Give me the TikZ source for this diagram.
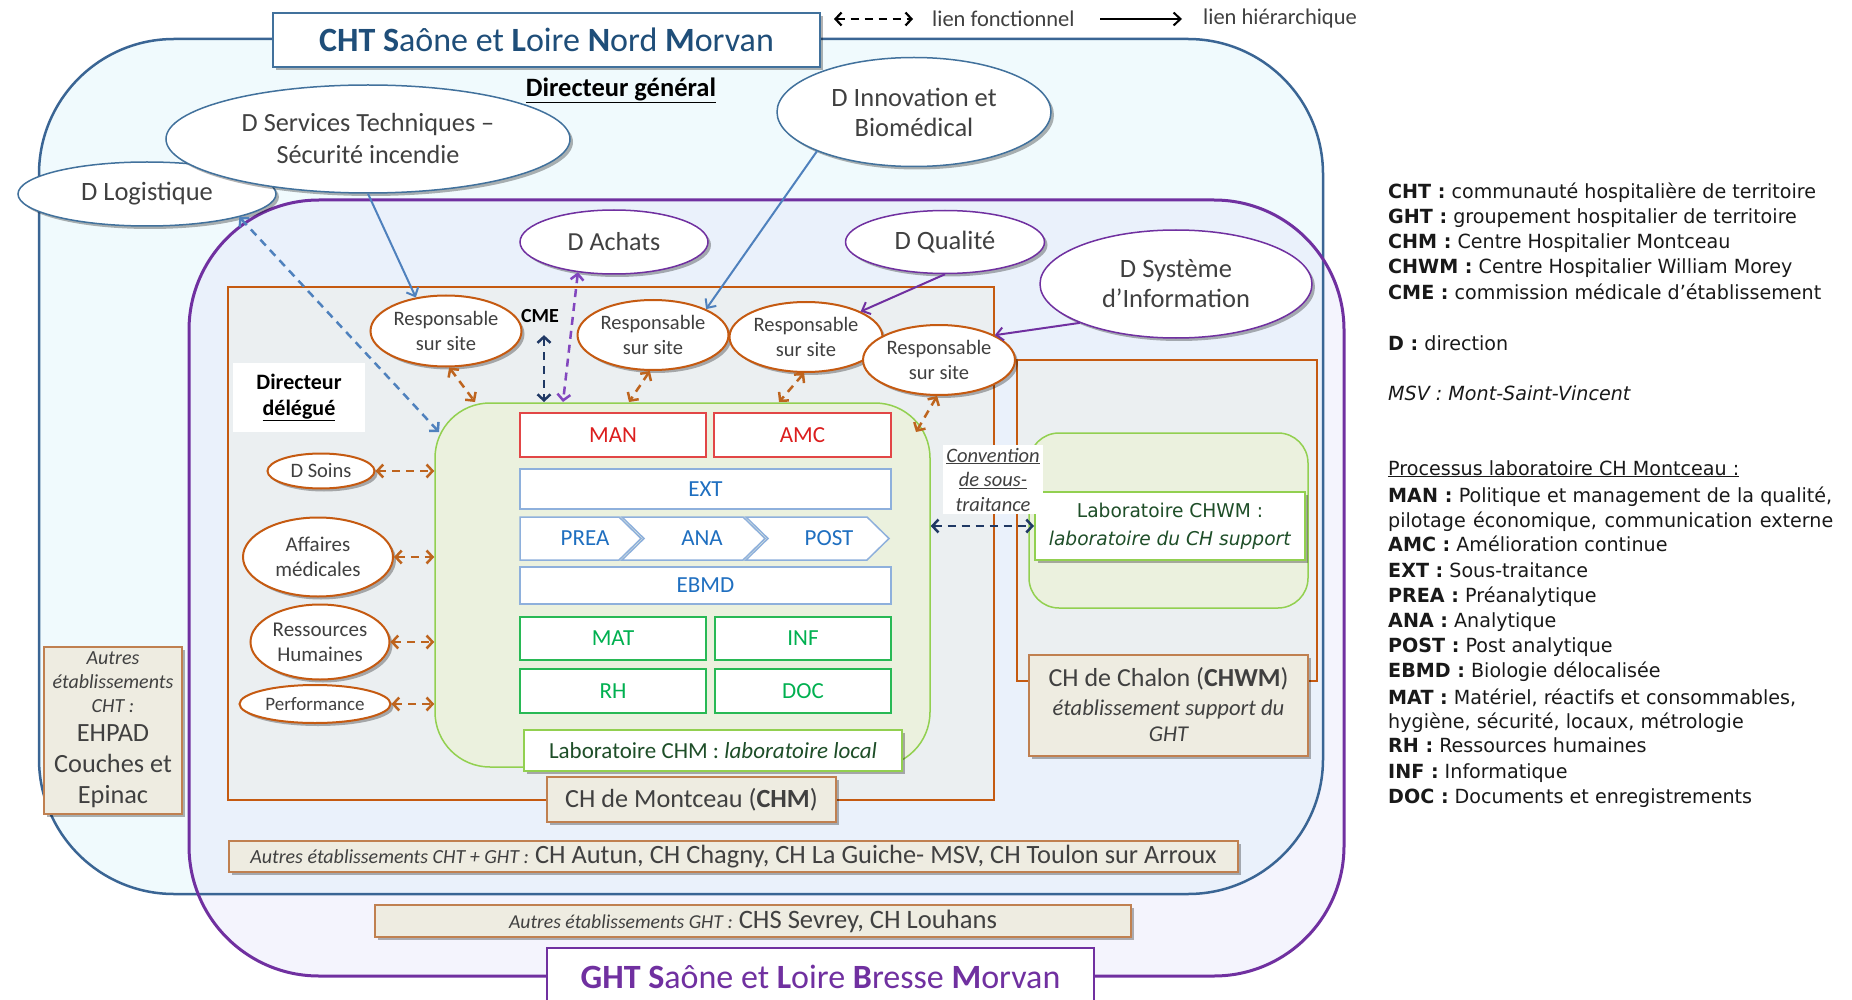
\documentclass[tikz,border=0pt]{standalone}
\usepackage{fontspec}
\setmainfont{Carlito}
\newfontfamily\lgfont[FakeStretch=0.98]{DejaVu Sans}
\usetikzlibrary{shapes.geometric,arrows.meta,shadows}
\newcommand{\myfs}[2]{\fontsize{#1}{#2}\selectfont}
\definecolor{chtblue}{RGB}{58,101,148}
\definecolor{titleblue}{RGB}{31,78,121}
\definecolor{ghtpurple}{RGB}{112,48,160}
\definecolor{achpurple}{RGB}{130,70,190}
\definecolor{chtfill}{RGB}{240,250,253}
\definecolor{ghtfill}{RGB}{225,225,250}
\definecolor{ellblue}{RGB}{65,113,156}
\definecolor{brownline}{RGB}{197,90,17}
\definecolor{browna}{RGB}{190,100,30}
\definecolor{boxgray}{RGB}{235,239,241}
\definecolor{labgreenfill}{RGB}{235,241,222}
\definecolor{labgreenline}{RGB}{146,208,80}
\definecolor{tanfill}{RGB}{238,236,225}
\definecolor{tanline}{RGB}{192,128,80}
\definecolor{manred}{RGB}{226,70,70}
\definecolor{mantext}{RGB}{220,30,30}
\definecolor{extline}{RGB}{142,176,220}
\definecolor{exttext}{RGB}{31,111,192}
\definecolor{matline}{RGB}{40,185,85}
\definecolor{mattext}{RGB}{0,176,80}
\definecolor{darkgreen}{RGB}{30,78,40}
\definecolor{navy}{RGB}{31,56,100}
\definecolor{arrblue}{RGB}{79,129,189}
\definecolor{txtgray}{RGB}{64,64,64}
\tikzset{
 shad/.style={drop shadow={shadow xshift=3pt,shadow yshift=-3pt,opacity=0.3,fill=black}},
 ellb/.style={ellipse,draw=ellblue,line width=1.5pt,fill=white,inner sep=0pt,shad,align=center,text=txtgray},
 ellp/.style={ellb,draw=ghtpurple},
 ellr/.style={ellb,draw=brownline,line width=2pt},
 redbox/.style={draw=manred,line width=1.5pt,fill=white,inner sep=0pt,text=mantext,font=\myfs{23}{26}},
 bluebox/.style={draw=extline,line width=1.5pt,fill=white,inner sep=0pt,text=exttext,font=\myfs{23}{26}},
 greenbox/.style={draw=matline,line width=1.5pt,fill=white,inner sep=0pt,text=mattext,font=\myfs{23}{26}},
 tanbox/.style={draw=tanline,line width=2pt,fill=tanfill,shad,align=center,inner sep=0pt},
 fonc/.style={dash pattern=on 8pt off 6pt,line width=2.5pt,{Straight Barb[length=6pt,width=13pt]}-{Straight Barb[length=6pt,width=13pt]}},
 hier/.style={line width=2pt,-{Straight Barb[length=7pt,width=13pt]}},
 lg/.style={anchor=base west,inner sep=0pt,font=\lgfont\myfs{19.5}{25},text=black!90},
}
\begin{document}
\begin{tikzpicture}[x=1pt,y=-1pt]
\useasboundingbox (0,0) rectangle (1852,1000);
\fill[white] (0,0) rectangle (1852,1000);
% regions
\fill[chtfill,rounded corners=135pt] (39,39) rectangle (1323,894);
\fill[ghtfill,fill opacity=0.35,rounded corners=130pt] (189,200) rectangle (1344,976);
\draw[chtblue,line width=2.5pt,rounded corners=135pt] (39,39) rectangle (1323,894);
\draw[ghtpurple,line width=3pt,rounded corners=130pt] (189,200) rectangle (1344,976);

% establishments
\node[draw=brownline,line width=2.5pt,fill=boxgray,minimum width=766pt,minimum height=513pt,inner sep=0pt] (chm) at (611,543.5) {};
\node[draw=brownline,line width=2.5pt,fill=boxgray,minimum width=300pt,minimum height=321pt,inner sep=0pt] (chwm) at (1167,520.5) {};

% lab regions
\node[draw=labgreenline,line width=1.5pt,fill=labgreenfill,rounded corners=55pt,minimum width=495pt,minimum height=364pt,inner sep=0pt] (labchm) at (682.5,585) {};
\node[draw=labgreenline,line width=1.5pt,fill=labgreenfill,rounded corners=30pt,minimum width=279pt,minimum height=175pt,inner sep=0pt] (labchwm) at (1168.5,520.5) {};

% process boxes
\node[redbox,minimum width=186pt,minimum height=44pt] (man) at (613,435) {MAN};
\node[redbox,minimum width=177pt,minimum height=44pt] (amc) at (802.5,435) {AMC};
\node[bluebox,minimum width=371pt,minimum height=40pt] (ext) at (705.5,489) {EXT};
\draw[extline,line width=1.5pt,fill=white] (520,517) -- (619,517) -- (641,538.5) -- (619,560) -- (520,560) -- cycle;
\draw[extline,line width=1.5pt,fill=white] (622,517) -- (743,517) -- (765,538.5) -- (743,560) -- (622,560) -- (644,538.5) -- cycle;
\draw[extline,line width=1.5pt,fill=white] (746,517) -- (867,517) -- (889,538.5) -- (867,560) -- (746,560) -- (768,538.5) -- cycle;
\node[text=exttext,font=\myfs{23}{26}] (prea) at (585,538.5) {PREA};
\node[text=exttext,font=\myfs{23}{26}] (ana) at (702,538.5) {ANA};
\node[text=exttext,font=\myfs{23}{26}] (post) at (829,538.5) {POST};
\node[bluebox,minimum width=371pt,minimum height=37pt] (ebmd) at (705.5,585.5) {EBMD};
\node[greenbox,minimum width=186pt,minimum height=43pt] (mat) at (613,638.5) {MAT};
\node[greenbox,minimum width=176pt,minimum height=43pt] (inf) at (803,638.5) {INF};
\node[greenbox,minimum width=186pt,minimum height=44pt] (rh) at (613,691) {RH};
\node[greenbox,minimum width=176pt,minimum height=44pt] (doc) at (803,691) {DOC};

% lab labels
\node[draw=labgreenline,line width=2pt,fill=white,shad,minimum width=378pt,minimum height=41pt,inner sep=0pt,text=darkgreen,font=\myfs{23}{26}] (labl) at (713,750.5) {Laboratoire CHM : \textit{laboratoire local}};
\node[draw=labgreenline,line width=2pt,fill=white,shad,minimum width=270pt,minimum height=68pt,inner sep=0pt,align=center,text=darkgreen,font=\lgfont\myfs{19}{28}] (labw) at (1170,526) {Laboratoire CHWM :\\\textit{laboratoire du CH support}};

% tan boxes
\node[tanbox,minimum width=289pt,minimum height=45pt,font=\myfs{26.2}{28},text=txtgray] (montceau) at (691.5,799.5) {CH de Montceau (\textbf{CHM})};
\node[tanbox,minimum width=279pt,minimum height=101pt] (chalon) at (1168.5,705.5) {};
\node[inner sep=0pt,font=\myfs{26}{29},text=txtgray] (chalonA) at (1168.5,679) {CH de Chalon (\textbf{CHWM})};
\node[inner sep=0pt,align=center,font=\myfs{22.6}{26}\itshape,text=txtgray] (chalonB) at (1168.5,721) {établissement support du\\GHT};
\node[tanbox,minimum width=138pt,minimum height=167pt] (ehpad) at (113,730.5) {};
\node[inner sep=0pt,align=center,font=\myfs{20}{24}\itshape,text=txtgray] (ehpadA) at (113,682) {Autres\\établissements\\CHT :};
\node[inner sep=0pt,align=center,font=\myfs{26.3}{31},text=txtgray] (ehpadB) at (113,766) {EHPAD\\Couches et\\Epinac};
\node[tanbox,minimum width=1009pt,minimum height=31pt,font=\myfs{26.4}{28},text=txtgray] (autres1) at (733.5,856.5) {{\itshape\myfs{20}{22}Autres établissements CHT + GHT :} CH Autun, CH Chagny, CH La Guiche- MSV, CH Toulon sur Arroux};
\node[tanbox,minimum width=756pt,minimum height=32pt,font=\myfs{26.6}{28},text=txtgray] (autres2) at (753,921) {{\itshape\myfs{19.7}{22}Autres établissements GHT :} CHS Sevrey, CH Louhans};

% directeur delegue
\node[fill=white,minimum width=132pt,minimum height=69pt,inner sep=0pt,align=center,font=\myfs{22}{26}\bfseries] (ddel) at (299,397.5) {Directeur\\\underline{délégué}};
\node[font=\myfs{20}{24}\bfseries] (cme) at (540,316) {CME};

% convention
\node[fill=white,minimum width=100pt,minimum height=69pt,inner sep=0pt,align=center,font=\myfs{20.5}{24.5}\itshape,text=txtgray] (conv) at (993,479.5) {\underline{Convention}\\\underline{de sous-}\\traitance};

% ellipses (directions)
\node[ellb,minimum width=258pt,minimum height=64pt,font=\myfs{26.5}{30}] (dlog) at (147,194) {D Logistique};
\node[ellb,minimum width=404pt,minimum height=108pt,font=\myfs{26.2}{32}] (dserv) at (368,139) {D Services Techniques –\\Sécurité incendie};
\node[ellb,minimum width=274pt,minimum height=109pt,font=\myfs{26.5}{30}] (dinno) at (914,112) {D Innovation et\\Biomédical};
\node[ellp,minimum width=188pt,minimum height=64pt,font=\myfs{26}{30}] (dach) at (614,242) {D Achats};
\node[ellp,minimum width=199pt,minimum height=63pt,font=\myfs{26.5}{30}] (dqual) at (945,242) {D Qualité};
\node[ellp,minimum width=272pt,minimum height=108pt,font=\myfs{26.5}{30}] (dsys) at (1176,284) {D Système\\d’Information};

% responsables
\node[ellr,minimum width=151pt,minimum height=71pt,font=\myfs{20.5}{25}] (r1) at (446,331) {Responsable\\sur site};
\node[ellr,minimum width=151pt,minimum height=70pt,font=\myfs{20.5}{25}] (r2) at (653,335) {Responsable\\sur site};
\node[ellr,minimum width=153pt,minimum height=70pt,font=\myfs{20.5}{25}] (r3) at (806,337) {Responsable\\sur site};
\node[ellr,minimum width=152pt,minimum height=70pt,font=\myfs{20.5}{25}] (r4) at (939,360) {Responsable\\sur site};

% left ellipses
\node[ellr,minimum width=107pt,minimum height=35pt,font=\myfs{20.5}{22}] (dsoins) at (321,471) {D Soins};
\node[ellr,minimum width=150pt,minimum height=79pt,font=\myfs{21}{25}] (daff) at (318,557) {Affaires\\médicales};
\node[ellr,minimum width=139pt,minimum height=75pt,font=\myfs{21}{25}] (drh) at (320,642) {Ressources\\Humaines};
\node[ellr,minimum width=151pt,minimum height=38pt,font=\myfs{19}{22}] (dperf) at (315,704) {Performance};

% titles
\node[draw=ellblue,line width=1.5pt,fill=white,shad,minimum width=547pt,minimum height=54pt,inner sep=0pt,text=titleblue,font=\myfs{34}{38}] (chttitle) at (546.5,40) {\textbf{CHT S}aône et \textbf{L}oire \textbf{N}ord \textbf{M}orvan};
\node[draw=ghtpurple,line width=2pt,fill=white,minimum width=547pt,minimum height=58pt,inner sep=0pt,text=ghtpurple,font=\myfs{34}{38}] (ghttitle) at (820.5,977) {\textbf{GHT S}aône et \textbf{L}oire \textbf{B}resse \textbf{M}orvan};
\node[font=\myfs{26.5}{30}\bfseries] (dg) at (621,90) {\underline{Directeur général}};

% hierarchical links
\draw[hier,arrblue] (dserv.south) -- (r1.132);
\draw[hier,arrblue] (dinno.202) -- (r2.26);
\draw[hier,ghtpurple] (dqual.south) -- (r3.25);
\draw[hier,ghtpurple] (dsys.202) -- (r4.24);

% functional links
\coordinate (labLog) at (439,432);
\coordinate (labR1) at (475,402);
\coordinate (labCME) at (544,402);
\coordinate (labAch) at (563,402);
\coordinate (labR2) at (629,402);
\coordinate (labR3) at (779,402);
\coordinate (labR4) at (916,432);
\draw[fonc,arrblue] (dlog.-14) -- (labLog);
\draw[fonc,browna] (r1.-85) -- (labR1);
\draw[fonc,navy] ([xshift=4pt,yshift=-9pt]cme.south) -- (labCME);
\draw[fonc,achpurple] (dach.-140) -- (labAch);
\draw[fonc,browna] (r2.-95) -- (labR2);
\draw[fonc,browna] (r3.-93) -- (labR3);
\draw[fonc,browna] (r4.-93) -- (labR4);
\draw[fonc,browna] (dsoins.east) -- (dsoins.east -| labchm.west);
\draw[fonc,browna] (daff.east) -- (daff.east -| labchm.west);
\draw[fonc,browna] (drh.east) -- (drh.east -| labchm.west);
\draw[fonc,browna] (dperf.east) -- (dperf.east -| labchm.west);
\draw[fonc,navy] (labchm.east |- labw.west) -- (labw.west);

% top legend
\coordinate (lf1) at (834,19);
\coordinate (lf2) at (913,19);
\draw[fonc,black,line width=2.2pt] (lf1) -- (lf2);
\node[anchor=west,inner sep=0pt,font=\myfs{22.5}{24},text=txtgray] (lfon) at (932,19) {lien fonctionnel};
\coordinate (lh1) at (1100,19);
\coordinate (lh2) at (1182,19);
\draw[hier,black] (lh1) -- (lh2);
\node[anchor=west,inner sep=0pt,font=\myfs{22.5}{24},text=txtgray] (lhie) at (1203,19) {lien hiérarchique};

% right legend
\node[lg] (l1) at (1388,199) {\textbf{CHT :} communauté hospitalière de territoire};
\node[lg] (l2) at (1388,224) {\textbf{GHT :} groupement hospitalier de territoire};
\node[lg] (l3) at (1388,249) {\textbf{CHM :} Centre Hospitalier Montceau};
\node[lg] (l4) at (1388,274) {\textbf{CHWM :} Centre Hospitalier William Morey};
\node[lg] (l5) at (1388,299) {\textbf{CME :} commission médicale d’établissement};
\node[lg] (l6) at (1388,350) {\textbf{D :} direction};
\node[lg] (l7) at (1388,400) {\textit{MSV : Mont-Saint-Vincent}};
\node[lg] (p0) at (1388,475) {\underline{Processus laboratoire CH Montceau :}};
\node[lg] (p1) at (1388,502) {\makebox[444pt][s]{\textbf{MAN :} Politique et management de la qualité,}};
\node[lg] (p2) at (1388,527) {\makebox[445pt][s]{pilotage économique, communication externe}};
\node[lg] (p3) at (1388,551) {\textbf{AMC :} Amélioration continue};
\node[lg] (p4) at (1388,577) {\textbf{EXT :} Sous-traitance};
\node[lg] (p5) at (1388,602) {\textbf{PREA :} Préanalytique};
\node[lg] (p6) at (1388,627) {\textbf{ANA :} Analytique};
\node[lg] (p7) at (1388,652) {\textbf{POST :} Post analytique};
\node[lg] (p8) at (1388,677) {\textbf{EBMD :} Biologie délocalisée};
\node[lg] (p9) at (1388,704) {\textbf{MAT :} Matériel, réactifs et consommables,};
\node[lg] (p10) at (1388,728) {hygiène, sécurité, locaux, métrologie};
\node[lg] (p11) at (1388,752) {\textbf{RH :} Ressources humaines};
\node[lg] (p12) at (1388,778) {\textbf{INF :} Informatique};
\node[lg] (p13) at (1388,803) {\textbf{DOC :} Documents et enregistrements};
\end{tikzpicture}
\end{document}
